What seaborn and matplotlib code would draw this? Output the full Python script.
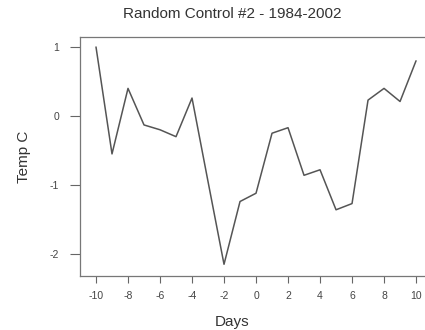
import matplotlib
matplotlib.use("Agg")
import matplotlib.pyplot as plt
import seaborn as sns
import pandas as pd

days = list(range(-10, 11))
temps = [1.0, -0.55, 0.40, -0.13, -0.20, -0.30, 0.26, -0.95, -2.15, -1.24, -1.12,
         -0.25, -0.17, -0.86, -0.78, -1.36, -1.27, 0.23, 0.40, 0.21, 0.80]
xticks = list(range(-10, 11, 2))
yticks = [-2, -1, 0, 1]
title = "Random Control #2 - 1984-2002"

sns.set_style("ticks")
plt.rcParams['font.family'] = ['Liberation Sans', 'DejaVu Sans']

fig = plt.figure(figsize=(4.25, 3.3), dpi=100)
ax = fig.add_axes([80/425, 1-276/330, 1-80/425, (276-37)/330])
df = pd.DataFrame({"Days": days, "Temp": temps})
sns.lineplot(data=df, x="Days", y="Temp", ax=ax, color="#555555", linewidth=1.1)
ax.set_xlim(-11, 10.56)
ax.set_ylim(-2.32, 1.145)
ax.set_xticks(xticks)
ax.set_xticklabels([str(t) for t in xticks], fontsize=7.5, color="#444444")
ax.set_yticks(yticks)
ax.set_yticklabels([str(t) for t in yticks], fontsize=7.5, color="#444444")
ax.tick_params(axis='x', length=5, width=0.8, color="#666666", pad=6)
ax.tick_params(axis='y', length=7, width=0.8, color="#666666", pad=8)
for s in ['left', 'bottom', 'top']:
    ax.spines[s].set_color("#777777")
    ax.spines[s].set_linewidth(0.9)
ax.spines['right'].set_visible(False)
ax.set_xlabel("")
ax.set_ylabel("")
fig.text(232/425, 1-322/330, "Days", ha="center", va="center", fontsize=11, color="#333333")
fig.text(24/425, 1-157/330, "Temp C", ha="center", va="center", rotation=90, fontsize=11, color="#333333")
fig.text(232/425, 1-14/330, title, ha="center", va="center", fontsize=11, color="#333333")
fig.savefig("out.png", dpi=100)
